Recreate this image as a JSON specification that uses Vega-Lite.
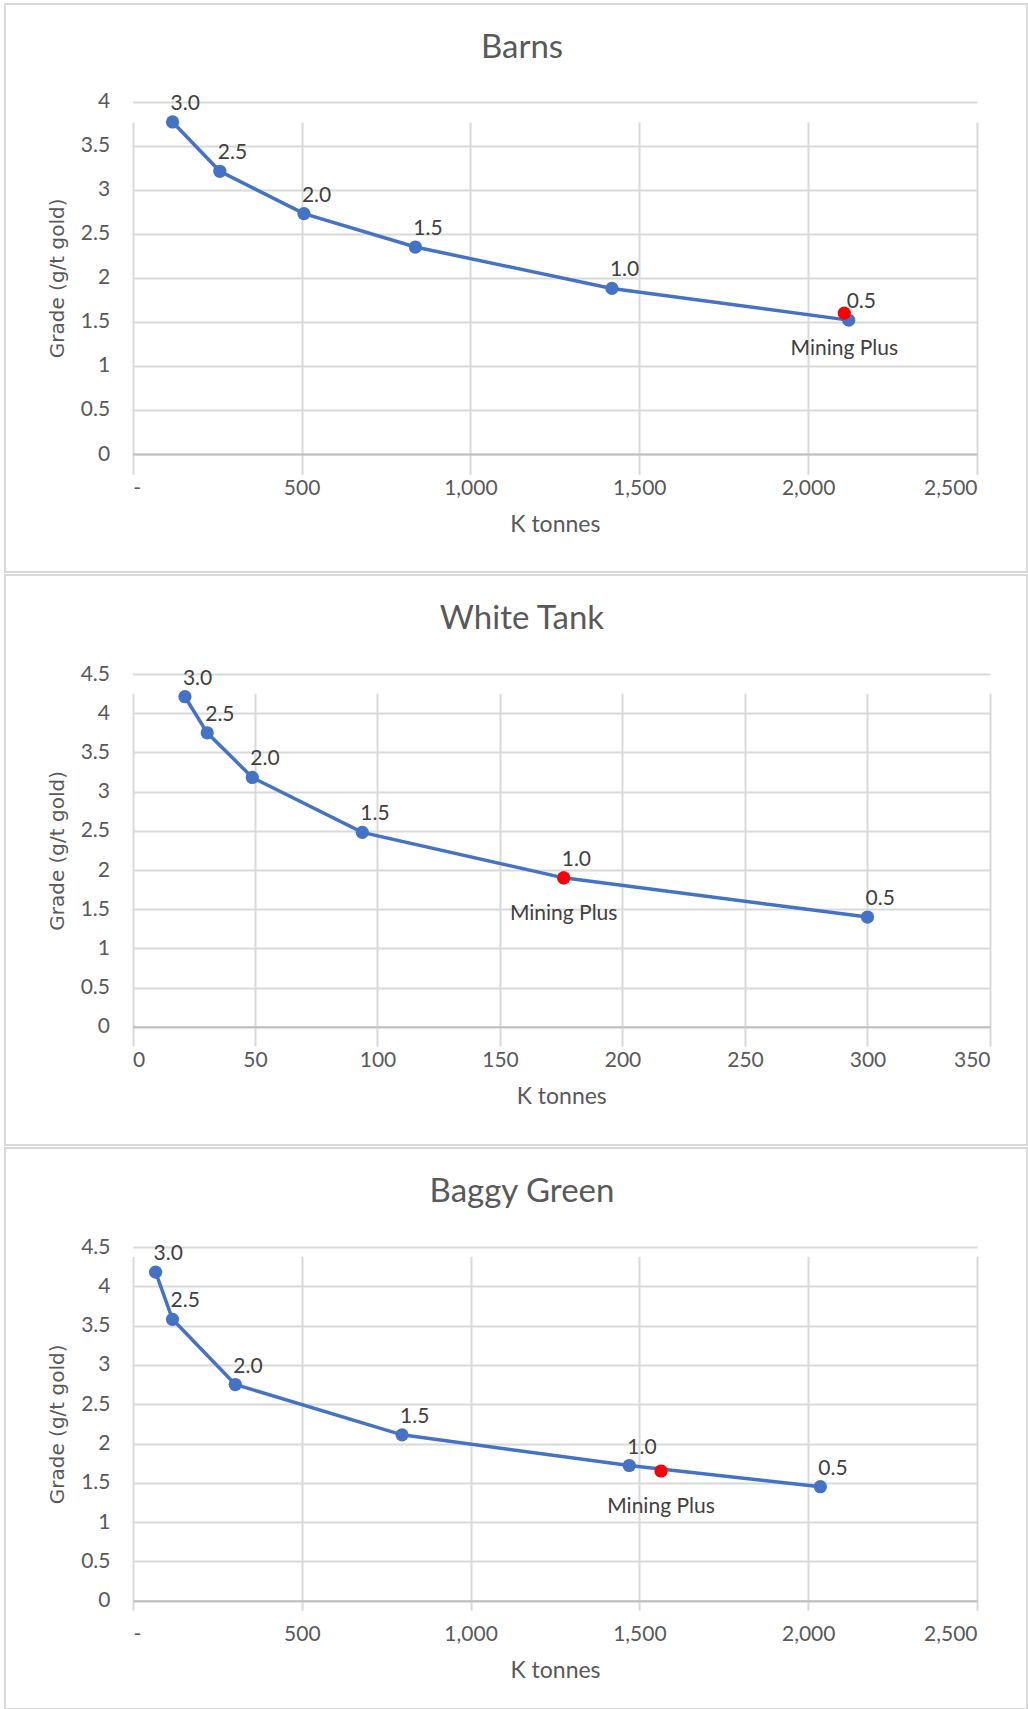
{
  "$schema": "https://vega.github.io/schema/vega-lite/v6.json",
  "background": "white",
  "padding": {"left": 4, "top": 3, "right": 0, "bottom": 0},
  "spacing": 1,
  "config": {
    "view": {"stroke": "#d9d9d9", "strokeWidth": 2},
    "title": {"font": "Lato", "fontSize": 33, "fontWeight": "normal", "color": "#595959", "anchor": "middle", "dx": 6},
    "axis": {
      "labelFont": "Lato", "labelFontSize": 21, "labelColor": "#595959",
      "ticks": false, "tickSize": 0,
      "gridColor": "#d9d9d9", "gridWidth": 2, "gridOpacity": 1,
      "titleColor": "#595959", "titleFontWeight": "normal"
    },
    "axisX": {"labelPadding": 23, "domainColor": "#bfbfbf", "domainWidth": 2, "titleFont": "Lato", "titleFontSize": 23, "titlePadding": 15},
    "axisY": {"labelPadding": 23, "domain": false, "titleFont": "DejaVu Sans", "titleFontSize": 20, "titlePadding": 13}
  },
  "datasets": {
    "mines": [
      {"site": "Barns", "kind": "curve", "label": "3.0", "tonnes": 118, "grade": 3.77},
      {"site": "Barns", "kind": "curve", "label": "2.5", "tonnes": 258, "grade": 3.21},
      {"site": "Barns", "kind": "curve", "label": "2.0", "tonnes": 507, "grade": 2.73},
      {"site": "Barns", "kind": "curve", "label": "1.5", "tonnes": 837, "grade": 2.35},
      {"site": "Barns", "kind": "curve", "label": "1.0", "tonnes": 1419, "grade": 1.88},
      {"site": "Barns", "kind": "curve", "label": "0.5", "tonnes": 2120, "grade": 1.52},
      {"site": "Barns", "kind": "mp", "label": "Mining Plus", "tonnes": 2107, "grade": 1.6},
      {"site": "White Tank", "kind": "curve", "label": "3.0", "tonnes": 21.4, "grade": 4.21},
      {"site": "White Tank", "kind": "curve", "label": "2.5", "tonnes": 30.5, "grade": 3.75},
      {"site": "White Tank", "kind": "curve", "label": "2.0", "tonnes": 48.9, "grade": 3.18},
      {"site": "White Tank", "kind": "curve", "label": "1.5", "tonnes": 93.8, "grade": 2.48},
      {"site": "White Tank", "kind": "curve", "label": "1.0", "tonnes": 176, "grade": 1.9},
      {"site": "White Tank", "kind": "curve", "label": "0.5", "tonnes": 300, "grade": 1.4},
      {"site": "White Tank", "kind": "mp", "label": "Mining Plus", "tonnes": 176, "grade": 1.9},
      {"site": "Baggy Green", "kind": "curve", "label": "3.0", "tonnes": 67, "grade": 4.18},
      {"site": "Baggy Green", "kind": "curve", "label": "2.5", "tonnes": 117, "grade": 3.58},
      {"site": "Baggy Green", "kind": "curve", "label": "2.0", "tonnes": 303, "grade": 2.75},
      {"site": "Baggy Green", "kind": "curve", "label": "1.5", "tonnes": 797, "grade": 2.11},
      {"site": "Baggy Green", "kind": "curve", "label": "1.0", "tonnes": 1470, "grade": 1.72},
      {"site": "Baggy Green", "kind": "curve", "label": "0.5", "tonnes": 2036, "grade": 1.45},
      {"site": "Baggy Green", "kind": "mp", "label": "Mining Plus", "tonnes": 1564, "grade": 1.65}
    ]
  },
  "vconcat": [
    {
      "width": 1022, "height": 568,
      "title": {"text": "Barns", "offset": -61},
      "data": {"name": "mines"},
      "transform": [{"filter": "datum.site === 'Barns'"}],
      "encoding": {
        "x": {"field": "tonnes", "type": "quantitative",
          "scale": {"domain": [0, 2500], "range": [127.7, 972], "nice": false, "zero": true},
          "axis": {"values": [0, 500, 1000, 1500, 2000, 2500], "labelExpr": "datum.value === 0 ? '-' : format(datum.value, ',')", "offset": -118, "title": "K tonnes"}},
        "y": {"field": "grade", "type": "quantitative",
          "scale": {"domain": [0, 4], "range": [450, 97.7], "nice": false, "zero": true},
          "axis": {"values": [0, 0.5, 1, 1.5, 2, 2.5, 3, 3.5, 4], "format": "~g", "offset": -127.7, "title": "Grade (g/t gold)"}}
      },
      "layer": [
        {"transform": [{"filter": "datum.kind === 'curve'"}], "mark": {"type": "line", "color": "#4472c4", "strokeWidth": 3.5}},
        {"transform": [{"filter": "datum.kind === 'curve'"}], "mark": {"type": "circle", "color": "#4472c4", "size": 175, "opacity": 1}},
        {"transform": [{"filter": "datum.kind === 'curve'"}], "mark": {"type": "text", "align": "left", "baseline": "alphabetic", "dx": -2, "dy": -12, "font": "Lato", "fontSize": 21, "color": "#404040"}, "encoding": {"text": {"field": "label"}}},
        {"transform": [{"filter": "datum.kind === 'mp'"}], "mark": {"type": "circle", "color": "#ff0000", "size": 175, "opacity": 1}},
        {"transform": [{"filter": "datum.kind === 'mp'"}], "mark": {"type": "text", "align": "center", "baseline": "top", "dy": 25, "font": "Lato", "fontSize": 21, "color": "#404040"}, "encoding": {"text": {"field": "label"}}}
      ]
    },
    {
      "width": 1022, "height": 570,
      "title": {"text": "White Tank", "offset": -61},
      "data": {"name": "mines"},
      "transform": [{"filter": "datum.site === 'White Tank'"}],
      "encoding": {
        "x": {"field": "tonnes", "type": "quantitative",
          "scale": {"domain": [0, 350], "range": [127.5, 985], "nice": false, "zero": true},
          "axis": {"values": [0, 50, 100, 150, 200, 250, 300, 350], "format": "d", "offset": -118.2, "title": "K tonnes"}},
        "y": {"field": "grade", "type": "quantitative",
          "scale": {"domain": [0, 4.5], "range": [451.8, 99], "nice": false, "zero": true},
          "axis": {"values": [0, 0.5, 1, 1.5, 2, 2.5, 3, 3.5, 4, 4.5], "format": "~g", "offset": -127.5, "title": "Grade (g/t gold)"}}
      },
      "layer": [
        {"transform": [{"filter": "datum.kind === 'curve'"}], "mark": {"type": "line", "color": "#4472c4", "strokeWidth": 3.5}},
        {"transform": [{"filter": "datum.kind === 'curve'"}], "mark": {"type": "circle", "color": "#4472c4", "size": 175, "opacity": 1}},
        {"transform": [{"filter": "datum.kind === 'curve'"}], "mark": {"type": "text", "align": "left", "baseline": "alphabetic", "dx": -2, "dy": -12, "font": "Lato", "fontSize": 21, "color": "#404040"}, "encoding": {"text": {"field": "label"}}},
        {"transform": [{"filter": "datum.kind === 'mp'"}], "mark": {"type": "circle", "color": "#ff0000", "size": 175, "opacity": 1}},
        {"transform": [{"filter": "datum.kind === 'mp'"}], "mark": {"type": "text", "align": "center", "baseline": "top", "dy": 25, "font": "Lato", "fontSize": 21, "color": "#404040"}, "encoding": {"text": {"field": "label"}}}
      ]
    },
    {
      "width": 1022, "height": 561,
      "title": {"text": "Baggy Green", "offset": -61},
      "data": {"name": "mines"},
      "transform": [{"filter": "datum.site === 'Baggy Green'"}],
      "encoding": {
        "x": {"field": "tonnes", "type": "quantitative",
          "scale": {"domain": [0, 2500], "range": [128, 972], "nice": false, "zero": true},
          "axis": {"values": [0, 500, 1000, 1500, 2000, 2500], "labelExpr": "datum.value === 0 ? '-' : format(datum.value, ',')", "offset": -108.3, "title": "K tonnes"}},
        "y": {"field": "grade", "type": "quantitative",
          "scale": {"domain": [0, 4.5], "range": [452.7, 99], "nice": false, "zero": true},
          "axis": {"values": [0, 0.5, 1, 1.5, 2, 2.5, 3, 3.5, 4, 4.5], "format": "~g", "offset": -128, "title": "Grade (g/t gold)"}}
      },
      "layer": [
        {"transform": [{"filter": "datum.kind === 'curve'"}], "mark": {"type": "line", "color": "#4472c4", "strokeWidth": 3.5}},
        {"transform": [{"filter": "datum.kind === 'curve'"}], "mark": {"type": "circle", "color": "#4472c4", "size": 175, "opacity": 1}},
        {"transform": [{"filter": "datum.kind === 'curve'"}], "mark": {"type": "text", "align": "left", "baseline": "alphabetic", "dx": -2, "dy": -12, "font": "Lato", "fontSize": 21, "color": "#404040"}, "encoding": {"text": {"field": "label"}}},
        {"transform": [{"filter": "datum.kind === 'mp'"}], "mark": {"type": "circle", "color": "#ff0000", "size": 175, "opacity": 1}},
        {"transform": [{"filter": "datum.kind === 'mp'"}], "mark": {"type": "text", "align": "center", "baseline": "top", "dy": 25, "font": "Lato", "fontSize": 21, "color": "#404040"}, "encoding": {"text": {"field": "label"}}}
      ]
    }
  ]
}
